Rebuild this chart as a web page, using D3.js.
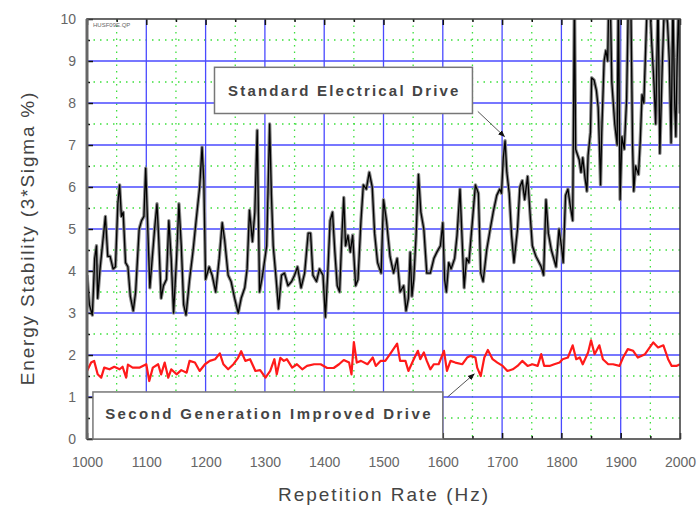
<!DOCTYPE html>
<html>
<head>
<meta charset="utf-8">
<script src="https://cdn.jsdelivr.net/npm/d3@7"></script>
<style>
body { margin: 0; background: #fff; }
svg text { font-family: Arial, "Liberation Sans", sans-serif; }
</style>
</head>
<body>
<div id="chart"></div>
<script>
// standard electrical drive (black trace)
const stdHz = [1000,1004,1009,1013,1016,1018,1022,1027,1031,1035,1039,1044,1048,1052,1055,1058,1061,1065,1069,1073,
  1078,1082,1088,1092,1096,1099,1102,1106,1110,1114,1118,1121,1125,1129,1134,1138,1142,1146,1151,1155,
  1159,1163,1167,1173,1179,1184,1190,1194,1197,1200,1206,1211,1217,1223,1228,1232,1238,1243,1249,1255,
  1260,1266,1270,1274,1279,1283,1287,1291,1296,1300,1303,1308,1311,1314,1319,1323,1328,1333,1339,1345,
  1350,1355,1361,1367,1373,1377,1381,1387,1392,1398,1402,1406,1410,1414,1418,1422,1426,1430,1433,1436,
  1440,1444,1448,1453,1457,1462,1466,1471,1476,1481,1485,1490,1496,1500,1505,1511,1517,1523,1528,1534,
  1538,1542,1545,1548,1551,1555,1559,1563,1568,1573,1579,1585,1590,1596,1600,1603,1606,1610,1614,1620,
  1624,1629,1633,1636,1640,1644,1650,1655,1660,1664,1668,1674,1680,1685,1691,1696,1699,1702,1705,1708,
  1712,1716,1720,1726,1730,1734,1738,1743,1748,1751,1757,1766,1770,1774,1778,1783,1787,1791,1796,1800,
  1803,1807,1811,1815,1819,1820,1822,1824,1830,1833,1836,1840,1843,1845,1849,1851,1855,1859,1862,1864,
  1866,1868,1872,1875,1878,1880,1882,1885,1890,1894,1896,1899,1902,1906,1910,1913,1917,1920,1922,1925,
  1930,1933,1936,1939,1942,1945,1949,1952,1956,1959,1963,1966,1970,1974,1979,1982,1985,1988,1991,1993,
  1995,1998,2000];
const stdVal = [3.9,3.2,2.95,4.3,4.6,3.35,4.05,4.75,5.3,4.35,4.35,4.05,4.1,5.6,6.05,5.3,5.4,4.2,4.1,3.4,
  3.05,3.5,5.0,5.2,5.3,6.45,5.2,3.6,4.3,5.0,5.6,4.75,3.35,3.65,3.8,5.2,4.3,3.0,4.3,5.6,
  4.6,3.2,2.95,3.8,4.5,5.2,6.0,6.95,6.15,3.8,4.1,3.9,3.5,4.3,5.15,4.75,3.9,3.75,3.35,3.0,
  3.35,3.6,4.05,5.45,4.7,5.4,7.35,3.5,3.9,4.3,4.6,7.5,5.8,4.6,3.8,3.1,3.9,3.95,3.65,3.75,
  3.9,4.1,3.6,3.95,4.9,4.9,3.9,3.75,4.05,3.9,2.9,3.95,5.2,5.4,4.45,3.65,3.5,4.9,5.75,4.6,
  4.85,4.45,4.85,3.65,3.8,5.2,6.05,5.95,6.35,6.0,4.9,4.2,3.95,5.7,5.2,4.35,3.95,4.3,3.5,3.65,
  3.05,3.35,4.45,3.4,3.8,4.85,6.3,5.4,5.0,3.95,3.95,4.3,4.45,4.6,5.15,3.8,3.5,4.2,4.05,4.3,
  4.85,5.95,4.6,3.6,4.3,4.2,5.2,6.05,5.85,3.95,3.75,4.5,5.0,5.4,5.8,5.95,5.85,6.7,7.1,6.35,
  5.85,4.85,4.2,5.0,6.0,6.15,5.7,6.25,5.2,4.6,4.35,4.1,3.9,5.7,4.9,4.5,4.3,4.1,5.0,4.6,
  4.2,5.8,5.95,5.55,5.2,6.9,10.6,6.9,6.65,6.35,6.7,6.2,5.9,6.75,7.3,8.6,8.55,8.3,7.9,7.05,
  6.05,7.3,9.0,9.25,9.0,10.5,10.8,8.5,7.5,7.0,10.5,5.7,7.2,6.9,8.1,10.5,10.5,7.0,5.9,6.5,
  6.3,7.1,8.2,8.0,9.25,10.5,10.5,9.5,8.5,7.5,10.5,6.8,8.85,10.5,9.9,9.0,7.05,10.5,8.0,7.2,
  8.85,10.5,7.75];

// second generation improved drive (red trace)
const impHz = [1000,1007,1012,1018,1024,1029,1038,1046,1055,1060,1066,1069,1077,1089,1100,1105,1111,1120,1125,1131,
  1137,1142,1151,1159,1168,1173,1182,1190,1199,1207,1216,1224,1230,1238,1247,1255,1260,1267,1275,1284,
  1292,1301,1309,1316,1320,1326,1332,1337,1346,1354,1363,1371,1383,1394,1405,1416,1425,1433,1442,1446,
  1450,1455,1462,1473,1482,1487,1495,1503,1511,1523,1528,1537,1542,1551,1558,1562,1568,1573,1579,1585,
  1593,1602,1607,1613,1621,1633,1641,1647,1655,1658,1664,1670,1676,1684,1692,1701,1709,1718,1726,1734,
  1743,1751,1760,1766,1771,1780,1788,1797,1802,1811,1819,1825,1831,1836,1845,1850,1856,1864,1870,1879,
  1887,1898,1904,1912,1921,1929,1941,1949,1955,1963,1972,1980,1986,1994,2000];
const impVal = [1.62,1.82,1.86,1.54,1.46,1.70,1.66,1.72,1.66,1.72,1.46,1.77,1.70,1.70,1.78,1.38,1.70,1.78,1.54,1.82,
  1.46,1.66,1.54,1.64,1.58,1.86,1.82,1.62,1.78,1.86,1.90,2.04,1.78,1.66,1.78,1.94,2.09,1.86,1.90,1.62,
  1.64,1.46,1.62,1.90,1.54,1.93,1.86,1.90,1.70,1.78,1.66,1.74,1.78,1.78,1.69,1.69,1.78,1.88,1.82,1.54,
  2.31,1.82,1.86,1.78,1.94,1.74,1.86,1.86,2.02,2.27,1.86,1.86,1.62,1.90,2.10,1.90,2.06,1.86,1.66,1.78,
  1.78,2.10,1.62,1.86,1.82,1.78,1.94,1.98,1.94,1.70,1.50,1.94,2.12,1.90,1.82,1.74,1.62,1.66,1.74,1.86,
  1.74,1.78,1.74,2.02,1.74,1.74,1.78,1.82,1.90,1.94,2.23,1.90,1.94,1.78,2.06,2.35,2.02,2.23,1.90,1.78,
  1.78,1.74,1.94,2.14,2.10,1.94,2.02,2.18,2.30,2.18,2.23,1.90,1.74,1.74,1.78];

const xTicks = d3.range(1000, 2001, 100);
const yTicks = d3.range(0, 11, 1);
const xTitle = "Repetition Rate (Hz)";
const yTitle = "Energy Stability (3*Sigma %)";
const stdLabel = "Standard Electrical Drive";
const impLabel = "Second Generation Improved Drive";

function buildPlot() {

let boxWidth = 700;
let boxHeight = 508;
let margin = {top: 19, right: 20, bottom: 69, left: 87};
let width = boxWidth - margin.left - margin.right;
let height = boxHeight - margin.top - margin.bottom;

let svg = d3.select("#chart")
    .append("svg")
    .attr("width", boxWidth)
    .attr("height", boxHeight);

let plotGroup = svg.append("g")
    .attr("transform", `translate(${margin.left}, ${margin.top})`);

let x = d3.scaleLinear().domain([1000, 2000]).range([0, width]);
let y = d3.scaleLinear().domain([0, 10]).range([height, 0]);

svg.append("defs").append("clipPath").attr("id", "clip")
    .append("rect").attr("width", width).attr("height", height);

// minor grid (green dotted)
let minorX = d3.range(1050, 2000, 100);
let minorY = d3.range(0.5, 10, 1);
plotGroup.append("g").selectAll("line").data(minorX).enter().append("line")
    .attr("x1", d => x(d)).attr("x2", d => x(d)).attr("y1", 0).attr("y2", height)
    .attr("stroke", "#3de03d").attr("stroke-width", 1.3).attr("stroke-dasharray", "1.5,5");
plotGroup.append("g").selectAll("line").data(minorY).enter().append("line")
    .attr("y1", d => y(d)).attr("y2", d => y(d)).attr("x1", 0).attr("x2", width)
    .attr("stroke", "#3de03d").attr("stroke-width", 1.3).attr("stroke-dasharray", "1.5,5");

// major grid (blue)
plotGroup.append("g").selectAll("line").data(xTicks.slice(1, -1)).enter().append("line")
    .attr("x1", d => x(d)).attr("x2", d => x(d)).attr("y1", 0).attr("y2", height)
    .attr("stroke", "#4a4aff").attr("stroke-width", 1.3);
plotGroup.append("g").selectAll("line").data(yTicks.slice(1, -1)).enter().append("line")
    .attr("y1", d => y(d)).attr("y2", d => y(d)).attr("x1", 0).attr("x2", width)
    .attr("stroke", "#4a4aff").attr("stroke-width", 1.3);

// traces
let lines = plotGroup.append("g").attr("clip-path", "url(#clip)");
let traceLine = d3.line().x(d => x(d[0])).y(d => y(d[1]));
let stdData = d3.zip(stdHz, stdVal);
lines.append("path").datum(stdData).attr("d", traceLine)
    .attr("fill", "none").attr("stroke", "#8a8a8a").attr("stroke-width", 3.4).attr("stroke-linejoin", "round");
lines.append("path").datum(stdData).attr("d", traceLine)
    .attr("fill", "none").attr("stroke", "#000").attr("stroke-width", 1.3).attr("stroke-linejoin", "round");
lines.append("path").datum(d3.zip(impHz, impVal)).attr("d", traceLine)
    .attr("fill", "none").attr("stroke", "#ff1a1a").attr("stroke-width", 2.2).attr("stroke-linejoin", "round");

// axes with inward ticks
plotGroup.append("g")
    .call(d3.axisLeft(y).tickValues(yTicks).tickSize(-6).tickPadding(11).tickFormat(d3.format("d")));
plotGroup.append("g")
    .call(d3.axisLeft(y).tickValues(minorY).tickSize(-3).tickFormat(""));
plotGroup.append("g")
    .attr("transform", `translate(0, ${height})`)
    .call(d3.axisBottom(x).tickValues(xTicks).tickSize(-6).tickPadding(18).tickFormat(d3.format("d")));
plotGroup.append("g")
    .attr("transform", `translate(0, ${height})`)
    .call(d3.axisBottom(x).tickValues(minorX).tickSize(-3).tickFormat(""));
plotGroup.append("g")
    .call(d3.axisTop(x).tickValues(xTicks).tickSize(-6).tickFormat(""));
plotGroup.append("g")
    .call(d3.axisTop(x).tickValues(minorX).tickSize(-3).tickFormat(""));

plotGroup.selectAll(".domain").remove();
plotGroup.selectAll(".tick line").attr("stroke", "#111").attr("stroke-width", 1.5);
plotGroup.selectAll(".tick text").attr("fill", "#666").attr("font-size", "14px");

// frame
plotGroup.append("rect").attr("width", width).attr("height", height)
    .attr("fill", "none").attr("stroke", "#444").attr("stroke-width", 1.6);
plotGroup.append("line").attr("x1", 0).attr("x2", 0).attr("y1", 0).attr("y2", height)
    .attr("stroke", "#666").attr("stroke-width", 3);

// tiny file tag
plotGroup.append("text").attr("x", 6).attr("y", 8)
    .attr("font-size", "6px").attr("fill", "#666").text("HUSF09E.QP");

// annotations
svg.select("defs").append("marker").attr("id", "head").attr("viewBox", "0 0 10 10")
    .attr("refX", 9).attr("refY", 5).attr("markerWidth", 7).attr("markerHeight", 7)
    .attr("orient", "auto").append("path").attr("d", "M0,1L10,5L0,9z").attr("fill", "#111");

plotGroup.append("line")
    .attr("x1", x(1659)).attr("y1", y(7.8)).attr("x2", x(1704)).attr("y2", y(7.2))
    .attr("stroke", "#555").attr("stroke-width", 1).attr("marker-end", "url(#head)");
plotGroup.append("line")
    .attr("x1", x(1608)).attr("y1", y(1.0)).attr("x2", x(1653)).attr("y2", y(1.55))
    .attr("stroke", "#555").attr("stroke-width", 1).attr("marker-end", "url(#head)");

plotGroup.append("rect")
    .attr("x", x(1215)).attr("y", y(8.85)).attr("width", x(1650) - x(1215)).attr("height", y(7.75) - y(8.85))
    .attr("fill", "#fff").attr("stroke", "#777").attr("stroke-width", 1.5);
plotGroup.append("text")
    .attr("x", x(1434)).attr("y", y(8.3)).attr("dy", "0.35em").attr("text-anchor", "middle")
    .attr("font-size", "15px").attr("font-weight", "bold").attr("letter-spacing", "2.2px")
    .attr("fill", "#444").text(stdLabel);

plotGroup.append("rect")
    .attr("x", x(1010)).attr("y", y(1.12)).attr("width", x(1600) - x(1010)).attr("height", y(0) - y(1.12))
    .attr("fill", "#fff").attr("stroke", "#777").attr("stroke-width", 1.5);
plotGroup.append("text")
    .attr("x", x(1307)).attr("y", y(0.6)).attr("dy", "0.35em").attr("text-anchor", "middle")
    .attr("font-size", "15px").attr("font-weight", "bold").attr("letter-spacing", "2.4px")
    .attr("fill", "#444").text(impLabel);

// axis titles
svg.append("text")
    .attr("x", 384).attr("y", 501)
    .attr("text-anchor", "middle").attr("font-size", "19px").attr("letter-spacing", "2px")
    .attr("fill", "#444").text(xTitle);
svg.append("text")
    .attr("transform", `translate(34, 238) rotate(-90)`)
    .attr("text-anchor", "middle").attr("font-size", "19px").attr("letter-spacing", "1.8px")
    .attr("fill", "#444").text(yTitle);
}

buildPlot();
</script>
</body>
</html>
